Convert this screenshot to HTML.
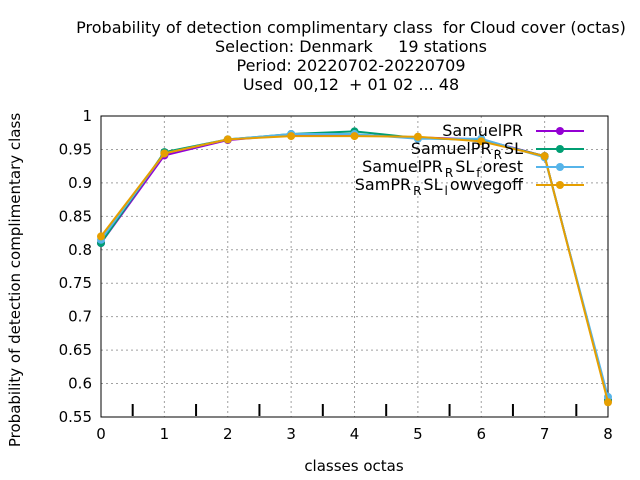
<!DOCTYPE html>
<html><head><meta charset="utf-8"><style>
body{margin:0;background:#fff}
svg{display:block;font-family:"DejaVu Sans","Liberation Sans",sans-serif}
text{white-space:pre}
</style></head><body>
<svg id="chart" width="640" height="480">
<g fill="#000" font-size="16" text-anchor="middle">
<text x="351" y="33" xml:space="preserve">Probability of detection complimentary class  for Cloud cover (octas)</text>
<text x="351" y="52" xml:space="preserve">Selection: Denmark     19 stations</text>
<text x="351" y="71" xml:space="preserve">Period: 20220702-20220709</text>
<text x="351" y="90" xml:space="preserve">Used  00,12  + 01 02 ... 48</text>
</g>
<text x="354" y="471" font-size="15" text-anchor="middle">classes octas</text>
<text transform="translate(20,280) rotate(-90)" font-size="15" text-anchor="middle">Probability of detection complimentary class</text>
<g id="grid"></g><g id="axes"></g><g id="series"></g><g id="legend"></g>
</svg>
<script>
const xTicks=[0,1,2,3,4,5,6,7,8];
const yTicks=[0.55,0.6,0.65,0.7,0.75,0.8,0.85,0.9,0.95,1];
const yLabels=["0.55","0.6","0.65","0.7","0.75","0.8","0.85","0.9","0.95","1"];
const seriesColors=["#9400d3","#009e73","#56b4e9","#e69f00"];
const s1=[0.81,0.941,0.964,0.972,0.972,0.968,0.965,0.94,0.575];
const s2=[0.81,0.946,0.965,0.973,0.977,0.967,0.964,0.94,0.575];
const s3=[0.815,0.944,0.965,0.973,0.973,0.966,0.966,0.938,0.58];
const s4=[0.82,0.944,0.965,0.97,0.97,0.969,0.962,0.94,0.572];
const L=101,R=608,T=116,B=417;
const X=v=>L+(v-0)/(8-0)*(R-L);
const Y=v=>B-(v-0.55)/(1-0.55)*(B-T);
const NS="http://www.w3.org/2000/svg";
function mk(tag,attrs,parent){const e=document.createElementNS(NS,tag);for(const k in attrs)e.setAttribute(k,attrs[k]);parent.appendChild(e);return e;}
const grid=document.getElementById('grid'),axes=document.getElementById('axes'),ser=document.getElementById('series'),leg=document.getElementById('legend');
xTicks.forEach(t=>{
 const g=mk('line',{x1:X(t),x2:X(t),y1:T,y2:B,stroke:'#a0a0a0','stroke-dasharray':'2,3','stroke-width':1},grid);
 
 
 const tx=mk('text',{x:X(t),y:B+22,'font-size':15,'text-anchor':'middle'},axes);
 tx.textContent=t;
 
 
});
for(let i=0;i<8;i++){
 const m=mk('line',{x1:X(i+0.5),x2:X(i+0.5),y1:B-13,y2:B-1,stroke:'#000','stroke-width':2},axes);
 
 
}
yTicks.forEach((t,i)=>{
 const g=mk('line',{x1:L,x2:R,y1:Y(t),y2:Y(t),stroke:'#a0a0a0','stroke-dasharray':'2,3','stroke-width':1},grid);
 
 
 const tx=mk('text',{x:L-9,y:Y(t)+5,'font-size':15,'text-anchor':'end'},axes);
 tx.textContent=yLabels[i];
 
 
});
const fr=mk('rect',{x:L,y:T,width:R-L,height:B-T,fill:'none',stroke:'#000','stroke-width':1},axes);


const all=[s1,s2,s3,s4];
all.forEach((s,k)=>{
 const pl=mk('polyline',{points:s.map((v,i)=>X(xTicks[i])+','+Y(v)).join(' '),fill:'none',stroke:seriesColors[k],'stroke-width':2},ser);
 
 
 s.forEach((v,i)=>{
  const c=mk('circle',{cx:X(xTicks[i]),cy:Y(v),r:4,fill:seriesColors[k]},ser);
  
  
 });
});
const labels=[
 ['SamuelPR'],
 ['SamuelPR','R','SL'],
 ['SamuelPR','R','SL','f','orest'],
 ['SamPR','R','SL','l','owvegoff']
];
labels.forEach((parts,k)=>{
 const y=131+k*18;
 const t=mk('text',{x:523,y:y+5,'font-size':16,'text-anchor':'end'},leg);
 parts.forEach((p,j)=>{const sp=mk('tspan',{},t);sp.textContent=p;if(j%2===1){sp.setAttribute('font-size','12');sp.setAttribute('dy','5');sp.setAttribute('dx','2');}else if(j>0){sp.setAttribute('dy','-5');sp.setAttribute('dx','2');}});
 
 
 const l=mk('line',{x1:536,x2:584,y1:y,y2:y,stroke:seriesColors[k],'stroke-width':2},leg);
 
 
 const c=mk('circle',{cx:560,cy:y,r:4,fill:seriesColors[k]},leg);
 
 
});
</script>
</body></html>
